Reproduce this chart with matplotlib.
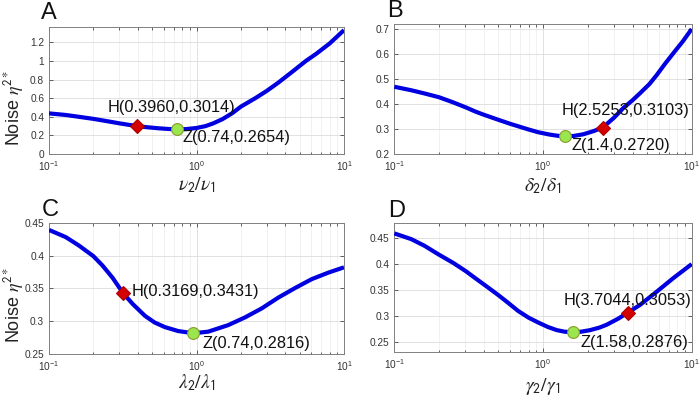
import matplotlib
matplotlib.use("Agg")
import matplotlib.pyplot as plt
from matplotlib.ticker import FixedLocator, FuncFormatter, LogLocator, NullFormatter

plt.rcParams['font.family'] = ['Liberation Sans', 'DejaVu Sans']
plt.rcParams['mathtext.fontset'] = 'stix'

# ---------------- data ----------------
xA = [0.1, 0.13, 0.16, 0.2, 0.25, 0.3, 0.35, 0.396, 0.45, 0.55, 0.65, 0.74, 0.85, 1.0, 1.15, 1.3,
      1.5, 1.75, 2.0, 2.5, 3.0, 3.6, 4.5, 5.5, 6.5, 8.0, 10.0]
yA = [0.437, 0.42, 0.40, 0.378, 0.352, 0.33, 0.313, 0.3014, 0.29, 0.277, 0.269, 0.2654, 0.268, 0.28, 0.30, 0.33,
      0.375, 0.44, 0.51, 0.60, 0.68, 0.77, 0.89, 1.00, 1.08, 1.19, 1.333]

xB = [0.1, 0.13, 0.16, 0.2, 0.25, 0.304, 0.35, 0.40, 0.5, 0.6, 0.68, 0.8, 0.93, 1.1, 1.25, 1.4, 1.6,
      1.87, 2.2, 2.5253, 3.0, 3.47, 4.0, 4.49, 5.2, 5.82, 6.6, 7.52, 8.7, 10.0]
yB = [0.469, 0.455, 0.442, 0.427, 0.406, 0.386, 0.370, 0.357, 0.337, 0.321, 0.311, 0.298, 0.287, 0.278, 0.273, 0.271, 0.272,
      0.279, 0.292, 0.306, 0.345, 0.384, 0.415, 0.443, 0.48, 0.516, 0.56, 0.603, 0.65, 0.70]

xC = [0.1, 0.13, 0.16, 0.2, 0.23, 0.27, 0.3169, 0.37, 0.448, 0.52, 0.61, 0.75, 0.95, 1.2, 1.64,
      2.13, 2.77, 3.59, 4.66, 6.04, 7.84, 10.0]
yC = [0.439, 0.428, 0.415, 0.399, 0.385, 0.366, 0.3431, 0.326, 0.308, 0.298, 0.291, 0.285, 0.2816, 0.284, 0.294,
      0.3057, 0.3195, 0.336, 0.3505, 0.364, 0.374, 0.382]

xD = [0.1, 0.13, 0.16, 0.2, 0.25, 0.304, 0.35, 0.4, 0.5, 0.58, 0.68, 0.8, 0.93, 1.08, 1.24, 1.4, 1.58,
      1.8, 2.07, 2.4, 2.68, 3.2, 3.7044, 4.49, 5.82, 7.52, 10.0]
yD = [0.458, 0.447, 0.434, 0.417, 0.401, 0.385, 0.372, 0.360, 0.3395, 0.325, 0.309, 0.296, 0.2866, 0.278, 0.272, 0.269, 0.268,
      0.269, 0.272, 0.277, 0.2824, 0.294, 0.3053, 0.3205, 0.346, 0.372, 0.399]

# marker points (as drawn) and their labels
h_pts = [(0.396, 0.3014), (2.5253, 0.306), (0.3169, 0.3431), (3.7044, 0.3053)]
z_pts = [(0.74, 0.2654), (1.4, 0.271), (0.95, 0.2816), (1.58, 0.268)]
h_labels = ['H(0.3960,0.3014)', 'H(2.5253,0.3103)', 'H(0.3169,0.3431)', 'H(3.7044,0.3053)']
z_labels = ['Z(0.74,0.2654)', 'Z(1.4,0.2720)', 'Z(0.74,0.2816)', 'Z(1.58,0.2876)']

panel_letters = ['A', 'B', 'C', 'D']
xlabels = [r'$\nu_\mathsf{2}/\nu_\mathsf{1}$', r'$\delta_\mathsf{2}/\delta_\mathsf{1}$',
           r'$\lambda_\mathsf{2}/\lambda_\mathsf{1}$', r'$\gamma_\mathsf{2}/\gamma_\mathsf{1}$']
yticks_list = [[0, 0.2, 0.4, 0.6, 0.8, 1.0, 1.2],
               [0.2, 0.3, 0.4, 0.5, 0.6, 0.7],
               [0.25, 0.3, 0.35, 0.4, 0.45],
               [0.25, 0.3, 0.35, 0.4, 0.45]]
ylims = [(0, 1.37), (0.2, 0.72), (0.25, 0.45), (0.23, 0.478)]
ylabel_text = r'Noise $\eta^{\mathsf{2*}}$'

xs = [xA, xB, xC, xD]
ys = [yA, yB, yC, yD]

# ---------------- layout ----------------
W, H = 700, 400
fig = plt.figure(figsize=(7, 4), dpi=100)

def rect(l, t, r, b):
    return [l / W, 1 - b / H, (r - l) / W, (b - t) / H]

rects = [rect(49, 26.7, 344, 154), rect(394.3, 24, 691.7, 154),
         rect(49, 222.7, 344, 354), rect(394.3, 223, 691.7, 352)]
letter_pos = [(41, 13), (387, 11), (42, 210), (388, 211)]
# text offsets (pixels: dx right, dy up) relative to markers
h_off = [(-29.6, 18), (-41.6, 17), (9, 1.3), (-64, 12.3)]
z_off = [(5.4, -7.7), (6.7, -9.7), (9.4, -10.4), (7.7, -10.3)]
xlab_y = [-0.244, -0.25, -0.22, -0.27]
ylab_y = [0.36, None, 0.373, None]

axc = '#262626'
for i in range(4):
    ax = fig.add_axes(rects[i])
    ax.plot(xs[i], ys[i], color='#0000e0', lw=3.0, solid_capstyle='butt', solid_joinstyle='round', zorder=3)
    hx, hy = h_pts[i]
    zx, zy = z_pts[i]
    ax.plot([hx], [hy], marker='D', ms=7, mfc='#d40000', mec='#b00000', mew=0.8, ls='none', zorder=4)
    ax.plot([zx], [zy], marker='o', ms=8.5, mfc='#99e64d', mec='#8c9a2e', mew=0.8, ls='none', zorder=4)
    pt = 72 / 100
    ax.annotate(h_labels[i], (hx, hy), xytext=(h_off[i][0] * pt, h_off[i][1] * pt),
                textcoords='offset points', ha='left', va='center', fontsize=11.8, color='#111111', zorder=5)
    ax.annotate(z_labels[i], (zx, zy), xytext=(z_off[i][0] * pt, z_off[i][1] * pt),
                textcoords='offset points', ha='left', va='center', fontsize=11.8, color='#111111', zorder=5)

    ax.set_xscale('log')
    ax.set_xlim(0.1, 10)
    ax.set_ylim(*ylims[i])
    ax.yaxis.set_major_locator(FixedLocator(yticks_list[i]))
    ax.yaxis.set_major_formatter(FuncFormatter(lambda v, p: '%g' % v))
    ax.xaxis.set_major_locator(LogLocator(base=10, numticks=5))
    ax.xaxis.set_minor_locator(LogLocator(base=10, subs=range(2, 10), numticks=20))
    ax.xaxis.set_minor_formatter(NullFormatter())

    ax.grid(True, which='major', color='#dcdcdc', lw=0.6, zorder=0)
    ax.grid(True, which='minor', axis='x', color='#ececec', lw=0.5, zorder=0)
    ax.set_axisbelow(True)
    ax.tick_params(which='both', direction='in', top=True, right=True, colors=axc,
                   labelsize=7.3, labelcolor='#333333')
    ax.tick_params(which='major', length=3, width=0.5)
    ax.tick_params(which='minor', length=1.8, width=0.5)
    ax.tick_params(axis='x', pad=4)
    for s in ax.spines.values():
        s.set_color('#808080')
        s.set_linewidth(0.7)

    ax.set_xlabel(xlabels[i], fontsize=14, va='center', color='#222222')
    ax.xaxis.set_label_coords(0.5, xlab_y[i])
    if ylab_y[i] is not None:
        ax.set_ylabel(ylabel_text, fontsize=13, va='center', color='#222222')
        ax.yaxis.set_label_coords(-0.12, ylab_y[i])

    lx, ly = letter_pos[i]
    fig.text(lx / W, 1 - ly / H, panel_letters[i], fontsize=17, ha='left', va='center', color='#111111')

fig.savefig('out.png', dpi=100)
